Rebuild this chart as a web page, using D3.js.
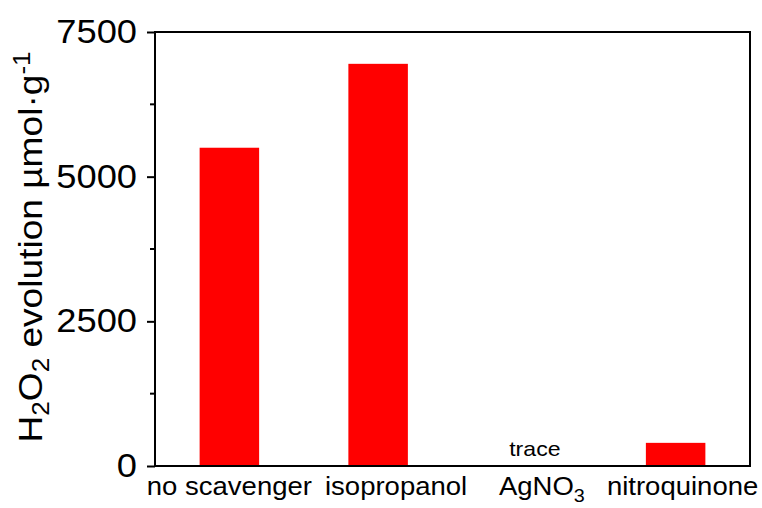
<!DOCTYPE html>
<html>
<head>
<meta charset="utf-8">
<script src="https://cdn.jsdelivr.net/npm/d3@7"></script>
<style>
  body { margin: 0; background: #fff; }
  svg { display: block; font-family: "Liberation Sans", Arial, sans-serif; }
</style>
</head>
<body>
<svg id="chart" width="762" height="508"></svg>
<script>
// scavenger experiment, H2O2 evolution (umol/g)
var categories = ["no scavenger", "isopropanol", "AgNO3", "nitroquinone"];
var h2o2 = [5500, 6950, 0, 400];
var notes = ["", "", "trace", ""];
var yTicks = [0, 2500, 5000, 7500];
var yMinorTicks = [1250, 3750, 6250];

// the original figure has its text a bit wider than normal
var stretchX = 1.1;

var m = { left: 155, right: 750, top: 32, bottom: 466 };

var svg = d3.select("#chart");

var x = d3.scaleBand()
  .domain(categories)
  .range([m.left, m.right])
  .paddingInner(0.6)
  .paddingOuter(0.3);

var y = d3.scaleLinear().domain([0, 7500]).range([m.bottom, m.top]);

function stretch(sel, k) {
  sel.each(function() {
    var w = this.getComputedTextLength();
    d3.select(this)
      .attr("textLength", w * k)
      .attr("lengthAdjust", "spacingAndGlyphs");
  });
}

// chem label: digits become subscripts
function chem(textSel, label) {
  label.split(/(\d+)/).forEach(function(part, i) {
    if (!part) return;
    var t = textSel.append("tspan").text(part);
    if (i % 2 === 1) t.attr("font-size", "0.72em").attr("baseline-shift", "-7px");
  });
}

// bars
svg.append("g")
  .selectAll("rect")
  .data(categories)
  .enter()
  .append("rect")
  .attr("x", d => x(d))
  .attr("width", x.bandwidth())
  .attr("y", (d, i) => y(h2o2[i]))
  .attr("height", (d, i) => y(0) - y(h2o2[i]))
  .attr("fill", "#ff0000");

// frame
svg.append("rect")
  .attr("x", m.left)
  .attr("y", m.top)
  .attr("width", m.right - m.left)
  .attr("height", m.bottom - m.top)
  .attr("fill", "none")
  .attr("stroke", "#000")
  .attr("stroke-width", 2);

// y axis
var yAxis = svg.append("g")
  .attr("transform", `translate(${m.left},0)`)
  .call(d3.axisLeft(y).tickValues(yTicks).tickSize(8).tickPadding(10).tickFormat(d3.format("d")));
yAxis.select(".domain").remove();
yAxis.selectAll(".tick line").attr("stroke", "#000").attr("stroke-width", 2);
yAxis.selectAll(".tick text")
  .attr("font-size", 33)
  .attr("fill", "#000")
  .call(stretch, stretchX);

svg.append("g")
  .selectAll("line")
  .data(yMinorTicks)
  .enter()
  .append("line")
  .attr("x1", m.left - 5)
  .attr("x2", m.left)
  .attr("y1", d => y(d))
  .attr("y2", d => y(d))
  .attr("stroke", "#000")
  .attr("stroke-width", 2);

// category labels, nudged like in the original
var nudge = [0, 18, 15, 7];
svg.append("g")
  .selectAll("text")
  .data(categories)
  .enter()
  .append("text")
  .attr("x", (d, i) => x(d) + x.bandwidth() / 2 + nudge[i])
  .attr("y", m.bottom + 29)
  .attr("text-anchor", "middle")
  .attr("font-size", 25)
  .each(function(d) { chem(d3.select(this), d); })
  .call(stretch, stretchX);

// notes above the bars ("trace")
svg.append("g")
  .selectAll("text")
  .data(categories.filter((d, i) => notes[i]))
  .enter()
  .append("text")
  .attr("x", d => x(d) + x.bandwidth() / 2 + 8)
  .attr("y", m.bottom - 10)
  .attr("text-anchor", "middle")
  .attr("font-size", 21)
  .text(d => notes[categories.indexOf(d)])
  .call(stretch, stretchX);

// y label
var yl = svg.append("text")
  .attr("transform", "translate(42,247) rotate(-90)")
  .attr("text-anchor", "middle")
  .attr("font-size", 33);
yl.append("tspan").text("H");
yl.append("tspan").text("2").attr("font-size", "0.7em").attr("baseline-shift", "-7px");
yl.append("tspan").text("O");
yl.append("tspan").text("2").attr("font-size", "0.7em").attr("baseline-shift", "-7px");
yl.append("tspan").text(" evolution  \u00b5mol\u00b7g");
yl.append("tspan").text("-1").attr("font-size", "0.7em").attr("baseline-shift", "12px");
yl.attr("textLength", 391).attr("lengthAdjust", "spacingAndGlyphs");
</script>
</body>
</html>
